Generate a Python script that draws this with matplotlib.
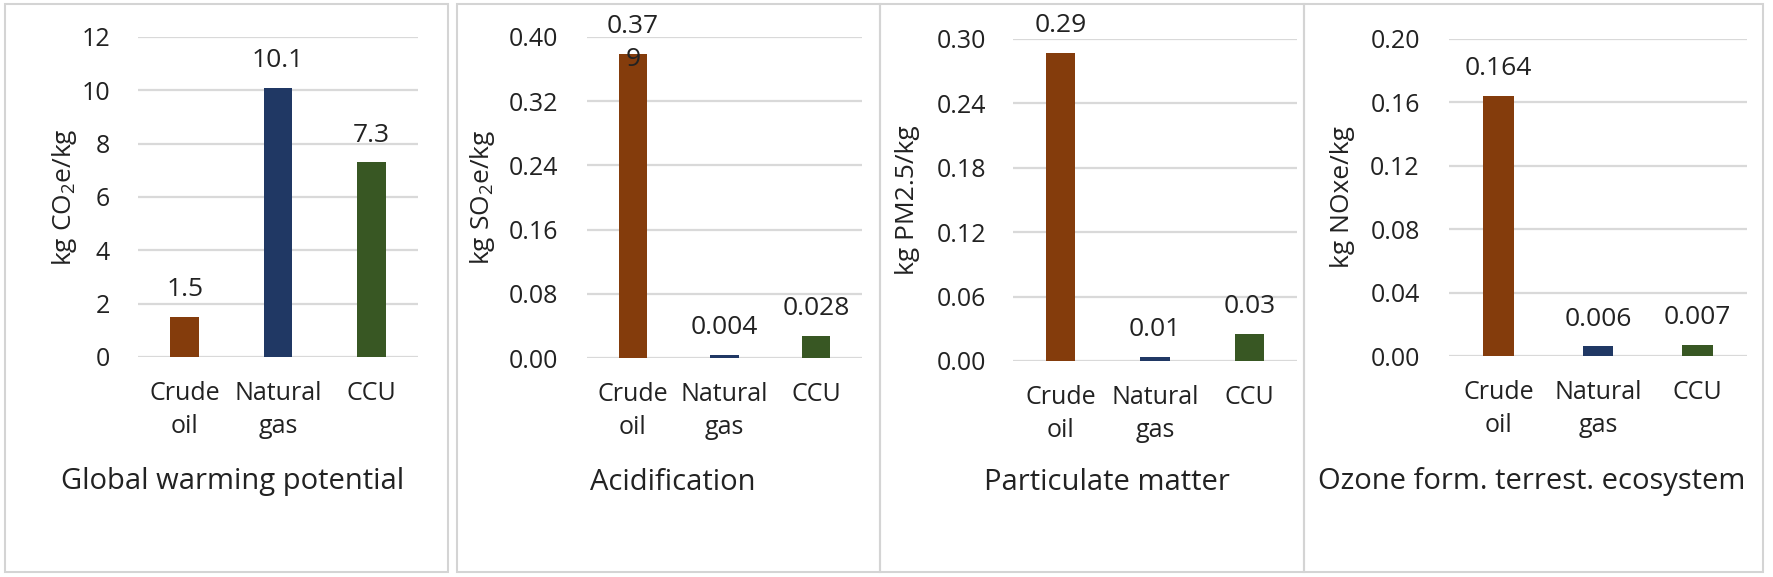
import matplotlib
matplotlib.use("Agg")
import matplotlib.pyplot as plt
from matplotlib.patches import Rectangle

plt.rcParams['font.family'] = ['Open Sans', 'DejaVu Sans']
plt.rcParams['mathtext.default'] = 'regular'

# chart data
categories = ["Crude\noil", "Natural\ngas", "CCU"]
bar_colors = ["#843C0C", "#203864", "#385723"]

titles = ["Global warming potential", "Acidification", "Particulate matter",
          "Ozone form. terrest. ecosystem"]
ylabels = ["kg CO$_2$e/kg", "kg SO$_2$e/kg", "kg PM2.5/kg", "kg NOxe/kg"]

gwp_values = [1.5, 10.1, 7.3]
gwp_labels = ["1.5", "10.1", "7.3"]
acid_values = [0.379, 0.004, 0.028]
acid_labels = ["0.37\n9", "0.004", "0.028"]
pm_values = [0.287, 0.004, 0.025]
pm_labels = ["0.29", "0.01", "0.03"]
ozone_values = [0.164, 0.006, 0.007]
ozone_labels = ["0.164", "0.006", "0.007"]

gwp_ticks = [0, 2, 4, 6, 8, 10, 12]
acid_ticks = [0.00, 0.08, 0.16, 0.24, 0.32, 0.40]
pm_ticks = [0.00, 0.06, 0.12, 0.18, 0.24, 0.30]
ozone_ticks = [0.00, 0.04, 0.08, 0.12, 0.16, 0.20]

values = [gwp_values, acid_values, pm_values, ozone_values]
labels = [gwp_labels, acid_labels, pm_labels, ozone_labels]
ticks = [gwp_ticks, acid_ticks, pm_ticks, ozone_ticks]
tick_fmt = ["{:.0f}", "{:.2f}", "{:.2f}", "{:.2f}"]

# layout in pixels (figure is 1774 x 577)
W, H = 1774, 577
panel_box = [(5, 448), (457, 880), (880, 1304), (1304, 1763)]
axes_box = [(138, 418, 37, 357), (587, 862, 37, 358),
            (1013, 1297, 39, 361), (1449, 1747, 39, 356)]
ylabel_x = [65, 483, 908, 1343]
title_x = [233, 673, 1107, 1532]
ytick_pad = [20, 21, 19, 21]

text_color = "#222222"
grid_color = "#D9D9D9"

fig = plt.figure(figsize=(W / 100, H / 100), dpi=100)

for x0, x1 in panel_box:
    fig.patches.append(Rectangle((x0 / W, 1 - 572 / H), (x1 - x0) / W, 568 / H,
                                 transform=fig.transFigure, fill=False,
                                 edgecolor="#D4D4D4", linewidth=1.5))

for i in range(4):
    x0, x1, ytop, ybot = axes_box[i]
    ax = fig.add_axes([x0 / W, 1 - ybot / H, (x1 - x0) / W, (ybot - ytop) / H])
    ax.bar(range(3), values[i], width=0.31, color=bar_colors, zorder=3)
    ax.set_xlim(-0.5, 2.5)
    ax.set_ylim(0, ticks[i][-1])
    ax.set_yticks(ticks[i])
    ax.set_yticklabels([tick_fmt[i].format(t) for t in ticks[i]])
    ax.set_xticks(range(3))
    ax.set_xticklabels(categories, linespacing=1.45)
    ax.tick_params(axis='y', length=0, pad=ytick_pad[i], labelsize=18, colors=text_color)
    ax.tick_params(axis='x', length=0, pad=17, labelsize=18, colors=text_color)
    ax.grid(axis='y', color=grid_color, linewidth=1.6, zorder=0)
    for s in ax.spines.values():
        s.set_visible(False)

    # data labels; a wrapped label runs down into the bar like in the original
    for j in range(3):
        for k, line in enumerate(labels[i][j].split("\n")):
            ax.annotate(line, (j, values[i][j]), xytext=(0, 15 - 24 * k),
                        textcoords='offset points', ha='center', va='baseline',
                        fontsize=19, color=text_color, zorder=4)

    fig.text(ylabel_x[i] / W, 1 - (ytop + ybot) / 2 / H, ylabels[i], rotation=90,
             ha='center', va='center', fontsize=19, color=text_color)
    fig.text(title_x[i] / W, 1 - 482 / H, titles[i], ha='center', va='center',
             fontsize=21, color=text_color)

fig.savefig("out.png", dpi=100)
